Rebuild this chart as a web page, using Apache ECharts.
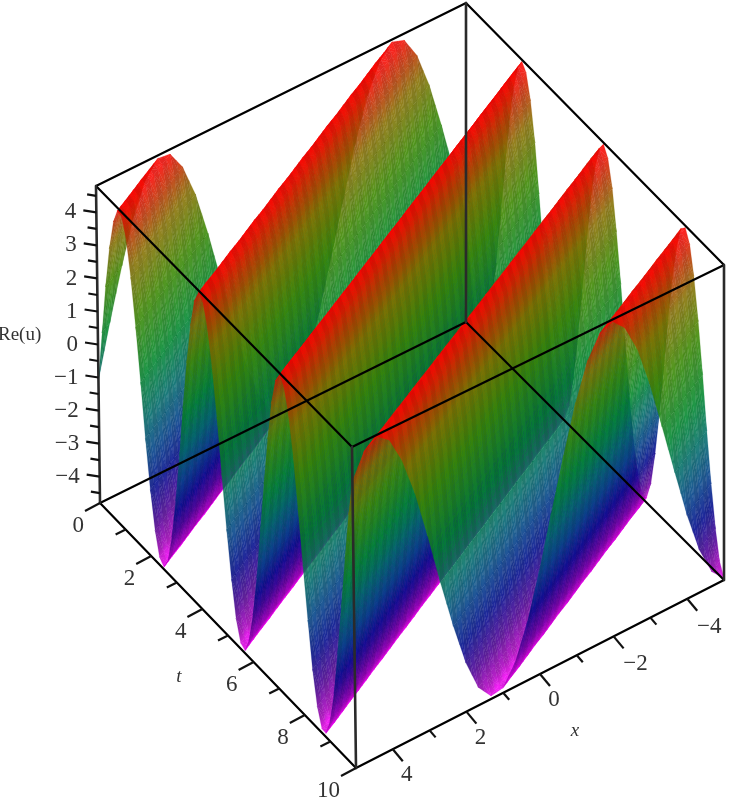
<!DOCTYPE html>
<html><head><meta charset="utf-8">
<style>html,body{margin:0;padding:0;background:#fff}#c{width:734px;height:800px;filter:blur(0.7px)}</style>
<script src="https://cdn.jsdelivr.net/npm/echarts@6/dist/echarts.min.js"></script>
</head><body><div id="c"></div>
<script>
const xValues=[-5,-4.67,-4.33,-4,-3.67,-3.33,-3,-2.67,-2.33,-2,-1.67,-1.33,-1,-0.67,-0.33,0,0.33,0.67,1,1.33,1.67,2,2.33,2.67,3,3.33,3.67,4,4.33,4.67,5];
const tValues=[0,0.17,0.33,0.5,0.67,0.83,1,1.17,1.33,1.5,1.67,1.83,2,2.17,2.33,2.5,2.67,2.83,3,3.17,3.33,3.5,3.67,3.83,4,4.17,4.33,4.5,4.67,4.83,5,5.17,5.33,5.5,5.67,5.83,6,6.17,6.33,6.5,6.67,6.83,7,7.17,7.33,7.5,7.67,7.83,8,8.17,8.33,8.5,8.67,8.83,9,9.17,9.33,9.5,9.67,9.83,10];
const reValues=[
[-1.61,-0.06,1.5,2.89,3.96,4.6,4.73,4.34,3.48,2.23,0.73,-0.85,-2.33,-3.56,-4.39,-4.74,-4.57,-3.9,-2.8,-1.38,0.18,1.72,3.08,4.09,4.66,4.71,4.24,3.31,2.01,0.49,-1.08],
[-2.98,-1.61,-0.06,1.5,2.89,3.96,4.6,4.73,4.34,3.48,2.23,0.73,-0.85,-2.33,-3.56,-4.39,-4.74,-4.57,-3.9,-2.8,-1.38,0.18,1.72,3.08,4.09,4.66,4.71,4.24,3.31,2.01,0.49],
[-4.03,-2.98,-1.61,-0.06,1.5,2.89,3.96,4.6,4.73,4.34,3.48,2.23,0.73,-0.85,-2.33,-3.56,-4.39,-4.74,-4.57,-3.9,-2.8,-1.38,0.18,1.72,3.08,4.09,4.66,4.71,4.24,3.31,2.01],
[-4.63,-4.03,-2.98,-1.61,-0.06,1.5,2.89,3.96,4.6,4.73,4.34,3.48,2.23,0.73,-0.85,-2.33,-3.56,-4.39,-4.74,-4.57,-3.9,-2.8,-1.38,0.18,1.72,3.08,4.09,4.66,4.71,4.24,3.31],
[-4.72,-4.63,-4.03,-2.98,-1.61,-0.06,1.5,2.89,3.96,4.6,4.73,4.34,3.48,2.23,0.73,-0.85,-2.33,-3.56,-4.39,-4.74,-4.57,-3.9,-2.8,-1.38,0.18,1.72,3.08,4.09,4.66,4.71,4.24],
[-4.29,-4.72,-4.63,-4.03,-2.98,-1.61,-0.06,1.5,2.89,3.96,4.6,4.73,4.34,3.48,2.23,0.73,-0.85,-2.33,-3.56,-4.39,-4.74,-4.57,-3.9,-2.8,-1.38,0.18,1.72,3.08,4.09,4.66,4.71],
[-3.39,-4.29,-4.72,-4.63,-4.03,-2.98,-1.61,-0.06,1.5,2.89,3.96,4.6,4.73,4.34,3.48,2.23,0.73,-0.85,-2.33,-3.56,-4.39,-4.74,-4.57,-3.9,-2.8,-1.38,0.18,1.72,3.08,4.09,4.66],
[-2.12,-3.39,-4.29,-4.72,-4.63,-4.03,-2.98,-1.61,-0.06,1.5,2.89,3.96,4.6,4.73,4.34,3.48,2.23,0.73,-0.85,-2.33,-3.56,-4.39,-4.74,-4.57,-3.9,-2.8,-1.38,0.18,1.72,3.08,4.09],
[-0.61,-2.12,-3.39,-4.29,-4.72,-4.63,-4.03,-2.98,-1.61,-0.06,1.5,2.89,3.96,4.6,4.73,4.34,3.48,2.23,0.73,-0.85,-2.33,-3.56,-4.39,-4.74,-4.57,-3.9,-2.8,-1.38,0.18,1.72,3.08],
[0.96,-0.61,-2.12,-3.39,-4.29,-4.72,-4.63,-4.03,-2.98,-1.61,-0.06,1.5,2.89,3.96,4.6,4.73,4.34,3.48,2.23,0.73,-0.85,-2.33,-3.56,-4.39,-4.74,-4.57,-3.9,-2.8,-1.38,0.18,1.72],
[2.43,0.96,-0.61,-2.12,-3.39,-4.29,-4.72,-4.63,-4.03,-2.98,-1.61,-0.06,1.5,2.89,3.96,4.6,4.73,4.34,3.48,2.23,0.73,-0.85,-2.33,-3.56,-4.39,-4.74,-4.57,-3.9,-2.8,-1.38,0.18],
[3.63,2.43,0.96,-0.61,-2.12,-3.39,-4.29,-4.72,-4.63,-4.03,-2.98,-1.61,-0.06,1.5,2.89,3.96,4.6,4.73,4.34,3.48,2.23,0.73,-0.85,-2.33,-3.56,-4.39,-4.74,-4.57,-3.9,-2.8,-1.38],
[4.43,3.63,2.43,0.96,-0.61,-2.12,-3.39,-4.29,-4.72,-4.63,-4.03,-2.98,-1.61,-0.06,1.5,2.89,3.96,4.6,4.73,4.34,3.48,2.23,0.73,-0.85,-2.33,-3.56,-4.39,-4.74,-4.57,-3.9,-2.8],
[4.75,4.43,3.63,2.43,0.96,-0.61,-2.12,-3.39,-4.29,-4.72,-4.63,-4.03,-2.98,-1.61,-0.06,1.5,2.89,3.96,4.6,4.73,4.34,3.48,2.23,0.73,-0.85,-2.33,-3.56,-4.39,-4.74,-4.57,-3.9],
[4.54,4.75,4.43,3.63,2.43,0.96,-0.61,-2.12,-3.39,-4.29,-4.72,-4.63,-4.03,-2.98,-1.61,-0.06,1.5,2.89,3.96,4.6,4.73,4.34,3.48,2.23,0.73,-0.85,-2.33,-3.56,-4.39,-4.74,-4.57],
[3.83,4.54,4.75,4.43,3.63,2.43,0.96,-0.61,-2.12,-3.39,-4.29,-4.72,-4.63,-4.03,-2.98,-1.61,-0.06,1.5,2.89,3.96,4.6,4.73,4.34,3.48,2.23,0.73,-0.85,-2.33,-3.56,-4.39,-4.74],
[2.7,3.83,4.54,4.75,4.43,3.63,2.43,0.96,-0.61,-2.12,-3.39,-4.29,-4.72,-4.63,-4.03,-2.98,-1.61,-0.06,1.5,2.89,3.96,4.6,4.73,4.34,3.48,2.23,0.73,-0.85,-2.33,-3.56,-4.39],
[1.27,2.7,3.83,4.54,4.75,4.43,3.63,2.43,0.96,-0.61,-2.12,-3.39,-4.29,-4.72,-4.63,-4.03,-2.98,-1.61,-0.06,1.5,2.89,3.96,4.6,4.73,4.34,3.48,2.23,0.73,-0.85,-2.33,-3.56],
[-0.3,1.27,2.7,3.83,4.54,4.75,4.43,3.63,2.43,0.96,-0.61,-2.12,-3.39,-4.29,-4.72,-4.63,-4.03,-2.98,-1.61,-0.06,1.5,2.89,3.96,4.6,4.73,4.34,3.48,2.23,0.73,-0.85,-2.33],
[-1.83,-0.3,1.27,2.7,3.83,4.54,4.75,4.43,3.63,2.43,0.96,-0.61,-2.12,-3.39,-4.29,-4.72,-4.63,-4.03,-2.98,-1.61,-0.06,1.5,2.89,3.96,4.6,4.73,4.34,3.48,2.23,0.73,-0.85],
[-3.17,-1.83,-0.3,1.27,2.7,3.83,4.54,4.75,4.43,3.63,2.43,0.96,-0.61,-2.12,-3.39,-4.29,-4.72,-4.63,-4.03,-2.98,-1.61,-0.06,1.5,2.89,3.96,4.6,4.73,4.34,3.48,2.23,0.73],
[-4.15,-3.17,-1.83,-0.3,1.27,2.7,3.83,4.54,4.75,4.43,3.63,2.43,0.96,-0.61,-2.12,-3.39,-4.29,-4.72,-4.63,-4.03,-2.98,-1.61,-0.06,1.5,2.89,3.96,4.6,4.73,4.34,3.48,2.23],
[-4.68,-4.15,-3.17,-1.83,-0.3,1.27,2.7,3.83,4.54,4.75,4.43,3.63,2.43,0.96,-0.61,-2.12,-3.39,-4.29,-4.72,-4.63,-4.03,-2.98,-1.61,-0.06,1.5,2.89,3.96,4.6,4.73,4.34,3.48],
[-4.69,-4.68,-4.15,-3.17,-1.83,-0.3,1.27,2.7,3.83,4.54,4.75,4.43,3.63,2.43,0.96,-0.61,-2.12,-3.39,-4.29,-4.72,-4.63,-4.03,-2.98,-1.61,-0.06,1.5,2.89,3.96,4.6,4.73,4.34],
[-4.19,-4.69,-4.68,-4.15,-3.17,-1.83,-0.3,1.27,2.7,3.83,4.54,4.75,4.43,3.63,2.43,0.96,-0.61,-2.12,-3.39,-4.29,-4.72,-4.63,-4.03,-2.98,-1.61,-0.06,1.5,2.89,3.96,4.6,4.73],
[-3.22,-4.19,-4.69,-4.68,-4.15,-3.17,-1.83,-0.3,1.27,2.7,3.83,4.54,4.75,4.43,3.63,2.43,0.96,-0.61,-2.12,-3.39,-4.29,-4.72,-4.63,-4.03,-2.98,-1.61,-0.06,1.5,2.89,3.96,4.6],
[-1.9,-3.22,-4.19,-4.69,-4.68,-4.15,-3.17,-1.83,-0.3,1.27,2.7,3.83,4.54,4.75,4.43,3.63,2.43,0.96,-0.61,-2.12,-3.39,-4.29,-4.72,-4.63,-4.03,-2.98,-1.61,-0.06,1.5,2.89,3.96],
[-0.37,-1.9,-3.22,-4.19,-4.69,-4.68,-4.15,-3.17,-1.83,-0.3,1.27,2.7,3.83,4.54,4.75,4.43,3.63,2.43,0.96,-0.61,-2.12,-3.39,-4.29,-4.72,-4.63,-4.03,-2.98,-1.61,-0.06,1.5,2.89],
[1.2,-0.37,-1.9,-3.22,-4.19,-4.69,-4.68,-4.15,-3.17,-1.83,-0.3,1.27,2.7,3.83,4.54,4.75,4.43,3.63,2.43,0.96,-0.61,-2.12,-3.39,-4.29,-4.72,-4.63,-4.03,-2.98,-1.61,-0.06,1.5],
[2.63,1.2,-0.37,-1.9,-3.22,-4.19,-4.69,-4.68,-4.15,-3.17,-1.83,-0.3,1.27,2.7,3.83,4.54,4.75,4.43,3.63,2.43,0.96,-0.61,-2.12,-3.39,-4.29,-4.72,-4.63,-4.03,-2.98,-1.61,-0.06],
[3.78,2.63,1.2,-0.37,-1.9,-3.22,-4.19,-4.69,-4.68,-4.15,-3.17,-1.83,-0.3,1.27,2.7,3.83,4.54,4.75,4.43,3.63,2.43,0.96,-0.61,-2.12,-3.39,-4.29,-4.72,-4.63,-4.03,-2.98,-1.61],
[4.51,3.78,2.63,1.2,-0.37,-1.9,-3.22,-4.19,-4.69,-4.68,-4.15,-3.17,-1.83,-0.3,1.27,2.7,3.83,4.54,4.75,4.43,3.63,2.43,0.96,-0.61,-2.12,-3.39,-4.29,-4.72,-4.63,-4.03,-2.98],
[4.75,4.51,3.78,2.63,1.2,-0.37,-1.9,-3.22,-4.19,-4.69,-4.68,-4.15,-3.17,-1.83,-0.3,1.27,2.7,3.83,4.54,4.75,4.43,3.63,2.43,0.96,-0.61,-2.12,-3.39,-4.29,-4.72,-4.63,-4.03],
[4.46,4.75,4.51,3.78,2.63,1.2,-0.37,-1.9,-3.22,-4.19,-4.69,-4.68,-4.15,-3.17,-1.83,-0.3,1.27,2.7,3.83,4.54,4.75,4.43,3.63,2.43,0.96,-0.61,-2.12,-3.39,-4.29,-4.72,-4.63],
[3.68,4.46,4.75,4.51,3.78,2.63,1.2,-0.37,-1.9,-3.22,-4.19,-4.69,-4.68,-4.15,-3.17,-1.83,-0.3,1.27,2.7,3.83,4.54,4.75,4.43,3.63,2.43,0.96,-0.61,-2.12,-3.39,-4.29,-4.72],
[2.5,3.68,4.46,4.75,4.51,3.78,2.63,1.2,-0.37,-1.9,-3.22,-4.19,-4.69,-4.68,-4.15,-3.17,-1.83,-0.3,1.27,2.7,3.83,4.54,4.75,4.43,3.63,2.43,0.96,-0.61,-2.12,-3.39,-4.29],
[1.04,2.5,3.68,4.46,4.75,4.51,3.78,2.63,1.2,-0.37,-1.9,-3.22,-4.19,-4.69,-4.68,-4.15,-3.17,-1.83,-0.3,1.27,2.7,3.83,4.54,4.75,4.43,3.63,2.43,0.96,-0.61,-2.12,-3.39],
[-0.54,1.04,2.5,3.68,4.46,4.75,4.51,3.78,2.63,1.2,-0.37,-1.9,-3.22,-4.19,-4.69,-4.68,-4.15,-3.17,-1.83,-0.3,1.27,2.7,3.83,4.54,4.75,4.43,3.63,2.43,0.96,-0.61,-2.12],
[-2.05,-0.54,1.04,2.5,3.68,4.46,4.75,4.51,3.78,2.63,1.2,-0.37,-1.9,-3.22,-4.19,-4.69,-4.68,-4.15,-3.17,-1.83,-0.3,1.27,2.7,3.83,4.54,4.75,4.43,3.63,2.43,0.96,-0.61],
[-3.34,-2.05,-0.54,1.04,2.5,3.68,4.46,4.75,4.51,3.78,2.63,1.2,-0.37,-1.9,-3.22,-4.19,-4.69,-4.68,-4.15,-3.17,-1.83,-0.3,1.27,2.7,3.83,4.54,4.75,4.43,3.63,2.43,0.96],
[-4.26,-3.34,-2.05,-0.54,1.04,2.5,3.68,4.46,4.75,4.51,3.78,2.63,1.2,-0.37,-1.9,-3.22,-4.19,-4.69,-4.68,-4.15,-3.17,-1.83,-0.3,1.27,2.7,3.83,4.54,4.75,4.43,3.63,2.43],
[-4.71,-4.26,-3.34,-2.05,-0.54,1.04,2.5,3.68,4.46,4.75,4.51,3.78,2.63,1.2,-0.37,-1.9,-3.22,-4.19,-4.69,-4.68,-4.15,-3.17,-1.83,-0.3,1.27,2.7,3.83,4.54,4.75,4.43,3.63],
[-4.65,-4.71,-4.26,-3.34,-2.05,-0.54,1.04,2.5,3.68,4.46,4.75,4.51,3.78,2.63,1.2,-0.37,-1.9,-3.22,-4.19,-4.69,-4.68,-4.15,-3.17,-1.83,-0.3,1.27,2.7,3.83,4.54,4.75,4.43],
[-4.07,-4.65,-4.71,-4.26,-3.34,-2.05,-0.54,1.04,2.5,3.68,4.46,4.75,4.51,3.78,2.63,1.2,-0.37,-1.9,-3.22,-4.19,-4.69,-4.68,-4.15,-3.17,-1.83,-0.3,1.27,2.7,3.83,4.54,4.75],
[-3.04,-4.07,-4.65,-4.71,-4.26,-3.34,-2.05,-0.54,1.04,2.5,3.68,4.46,4.75,4.51,3.78,2.63,1.2,-0.37,-1.9,-3.22,-4.19,-4.69,-4.68,-4.15,-3.17,-1.83,-0.3,1.27,2.7,3.83,4.54],
[-1.68,-3.04,-4.07,-4.65,-4.71,-4.26,-3.34,-2.05,-0.54,1.04,2.5,3.68,4.46,4.75,4.51,3.78,2.63,1.2,-0.37,-1.9,-3.22,-4.19,-4.69,-4.68,-4.15,-3.17,-1.83,-0.3,1.27,2.7,3.83],
[-0.14,-1.68,-3.04,-4.07,-4.65,-4.71,-4.26,-3.34,-2.05,-0.54,1.04,2.5,3.68,4.46,4.75,4.51,3.78,2.63,1.2,-0.37,-1.9,-3.22,-4.19,-4.69,-4.68,-4.15,-3.17,-1.83,-0.3,1.27,2.7],
[1.42,-0.14,-1.68,-3.04,-4.07,-4.65,-4.71,-4.26,-3.34,-2.05,-0.54,1.04,2.5,3.68,4.46,4.75,4.51,3.78,2.63,1.2,-0.37,-1.9,-3.22,-4.19,-4.69,-4.68,-4.15,-3.17,-1.83,-0.3,1.27],
[2.83,1.42,-0.14,-1.68,-3.04,-4.07,-4.65,-4.71,-4.26,-3.34,-2.05,-0.54,1.04,2.5,3.68,4.46,4.75,4.51,3.78,2.63,1.2,-0.37,-1.9,-3.22,-4.19,-4.69,-4.68,-4.15,-3.17,-1.83,-0.3],
[3.92,2.83,1.42,-0.14,-1.68,-3.04,-4.07,-4.65,-4.71,-4.26,-3.34,-2.05,-0.54,1.04,2.5,3.68,4.46,4.75,4.51,3.78,2.63,1.2,-0.37,-1.9,-3.22,-4.19,-4.69,-4.68,-4.15,-3.17,-1.83],
[4.58,3.92,2.83,1.42,-0.14,-1.68,-3.04,-4.07,-4.65,-4.71,-4.26,-3.34,-2.05,-0.54,1.04,2.5,3.68,4.46,4.75,4.51,3.78,2.63,1.2,-0.37,-1.9,-3.22,-4.19,-4.69,-4.68,-4.15,-3.17],
[4.74,4.58,3.92,2.83,1.42,-0.14,-1.68,-3.04,-4.07,-4.65,-4.71,-4.26,-3.34,-2.05,-0.54,1.04,2.5,3.68,4.46,4.75,4.51,3.78,2.63,1.2,-0.37,-1.9,-3.22,-4.19,-4.69,-4.68,-4.15],
[4.37,4.74,4.58,3.92,2.83,1.42,-0.14,-1.68,-3.04,-4.07,-4.65,-4.71,-4.26,-3.34,-2.05,-0.54,1.04,2.5,3.68,4.46,4.75,4.51,3.78,2.63,1.2,-0.37,-1.9,-3.22,-4.19,-4.69,-4.68],
[3.53,4.37,4.74,4.58,3.92,2.83,1.42,-0.14,-1.68,-3.04,-4.07,-4.65,-4.71,-4.26,-3.34,-2.05,-0.54,1.04,2.5,3.68,4.46,4.75,4.51,3.78,2.63,1.2,-0.37,-1.9,-3.22,-4.19,-4.69],
[2.29,3.53,4.37,4.74,4.58,3.92,2.83,1.42,-0.14,-1.68,-3.04,-4.07,-4.65,-4.71,-4.26,-3.34,-2.05,-0.54,1.04,2.5,3.68,4.46,4.75,4.51,3.78,2.63,1.2,-0.37,-1.9,-3.22,-4.19],
[0.8,2.29,3.53,4.37,4.74,4.58,3.92,2.83,1.42,-0.14,-1.68,-3.04,-4.07,-4.65,-4.71,-4.26,-3.34,-2.05,-0.54,1.04,2.5,3.68,4.46,4.75,4.51,3.78,2.63,1.2,-0.37,-1.9,-3.22],
[-0.77,0.8,2.29,3.53,4.37,4.74,4.58,3.92,2.83,1.42,-0.14,-1.68,-3.04,-4.07,-4.65,-4.71,-4.26,-3.34,-2.05,-0.54,1.04,2.5,3.68,4.46,4.75,4.51,3.78,2.63,1.2,-0.37,-1.9],
[-2.26,-0.77,0.8,2.29,3.53,4.37,4.74,4.58,3.92,2.83,1.42,-0.14,-1.68,-3.04,-4.07,-4.65,-4.71,-4.26,-3.34,-2.05,-0.54,1.04,2.5,3.68,4.46,4.75,4.51,3.78,2.63,1.2,-0.37],
[-3.5,-2.26,-0.77,0.8,2.29,3.53,4.37,4.74,4.58,3.92,2.83,1.42,-0.14,-1.68,-3.04,-4.07,-4.65,-4.71,-4.26,-3.34,-2.05,-0.54,1.04,2.5,3.68,4.46,4.75,4.51,3.78,2.63,1.2],
[-4.36,-3.5,-2.26,-0.77,0.8,2.29,3.53,4.37,4.74,4.58,3.92,2.83,1.42,-0.14,-1.68,-3.04,-4.07,-4.65,-4.71,-4.26,-3.34,-2.05,-0.54,1.04,2.5,3.68,4.46,4.75,4.51,3.78,2.63],
[-4.74,-4.36,-3.5,-2.26,-0.77,0.8,2.29,3.53,4.37,4.74,4.58,3.92,2.83,1.42,-0.14,-1.68,-3.04,-4.07,-4.65,-4.71,-4.26,-3.34,-2.05,-0.54,1.04,2.5,3.68,4.46,4.75,4.51,3.78]
];
const tTicks=[0,1,2,3,4,5,6,7,8,9,10];
const xTicks=[4,3,2,1,0,-1,-2,-3,-4];
const zTicks=[4.5,4,3.5,3,2.5,2,1.5,1,0.5,0,-0.5,-1,-1.5,-2,-2.5,-3,-3.5,-4,-4.5];
const colorKnots=[[-4.75,[255,0,255]],[-4.45,[170,0,190]],[-3.8,[80,0,150]],[-2.85,[0,10,140]],[-1.9,[0,65,135]],[-0.9,[0,108,105]],[0.3,[0,135,45]],[1.95,[60,135,0]],[3.35,[135,110,0]],[4.05,[185,55,0]],[4.75,[255,0,0]]];
const corners={b:{'5,0':[100,503],'-5,0':[466,322],'-5,10':[724,580],'5,10':[356,768]},t:{'5,0':[96,186],'-5,0':[466,3],'-5,10':[724,265],'5,10':[352,447]}};
const zLo=-4.8,zHi=4.8;
const surfaceAlpha=0.87,stripeShade=0.92;
function proj(x,t,z){
  const u=(x+5)/10,v=t/10,w=(z-zLo)/(zHi-zLo);
  const mix=(k,o)=>{const a=corners[k];
    return (1-u)*(1-v)*a['-5,0'][o]+u*(1-v)*a['5,0'][o]+(1-u)*v*a['-5,10'][o]+u*v*a['5,10'][o];};
  return [0,1].map(o=>(1-w)*mix('b',o)+w*mix('t',o));
}
function colorAt(z,f){
  const K=colorKnots;let c=K[K.length-1][1];
  if(z<=K[0][0])c=K[0][1];
  else for(let i=0;i<K.length-1;i++){if(z<=K[i+1][0]){const r=(z-K[i][0])/(K[i+1][0]-K[i][0]);c=K[i][1].map((v,o)=>v+(K[i+1][1][o]-v)*r);break;}}
  return 'rgb('+c.map(v=>Math.round(Math.min(255,v*f))).join(',')+')';
}
function triFill(P,Z,f){
  const zmin=Math.min(...Z),zmax=Math.max(...Z);
  const e1=[P[1][0]-P[0][0],P[1][1]-P[0][1]],e2=[P[2][0]-P[0][0],P[2][1]-P[0][1]];
  const det=e1[0]*e2[1]-e1[1]*e2[0];
  if(Math.abs(det)<0.5||zmax-zmin<0.02)return colorAt((zmin+zmax)/2,f);
  const d1=Z[1]-Z[0],d2=Z[2]-Z[0];
  const g=[(d1*e2[1]-d2*e1[1])/det,(d2*e1[0]-d1*e2[0])/det];
  const n=g[0]*g[0]+g[1]*g[1];
  const S=[P[0][0]+g[0]*(zmin-Z[0])/n,P[0][1]+g[1]*(zmin-Z[0])/n];
  const E=[P[0][0]+g[0]*(zmax-Z[0])/n,P[0][1]+g[1]*(zmax-Z[0])/n];
  const stops=[{offset:0,color:colorAt(zmin,f)}];
  colorKnots.forEach(k=>{if(k[0]>zmin&&k[0]<zmax)stops.push({offset:(k[0]-zmin)/(zmax-zmin),color:colorAt(k[0],f)});});
  stops.push({offset:1,color:colorAt(zmax,f)});
  return {type:'linear',global:true,x:S[0],y:S[1],x2:E[0],y2:E[1],colorStops:stops};
}
const cells=[];
for(let i=0;i<xValues.length-1;i++)for(let j=0;j<tValues.length-1;j++)cells.push([i,j]);
function renderCell(params,api){
  const i=api.value(0),j=api.value(1),ch=[];
  const x0=xValues[i],x1=xValues[i+1],t0=tValues[j],t1=tValues[j+1],xm=(x0+x1)/2;
  const a=reValues[j][i],b=reValues[j][i+1],c=reValues[j+1][i],d=reValues[j+1][i+1];
  const V={A:[x0,t0,a],B:[x1,t0,b],C:[x0,t1,c],D:[x1,t1,d],M:[xm,(t0+t1)/2,(a+d)/2],N:[xm,t0,(a+b)/2],O:[xm,t1,(c+d)/2]};
  const tris=[['A','N','M',1],['A','M','C',1],['C','M','O',1],['N','B','M',stripeShade],['B','D','M',stripeShade],['M','D','O',stripeShade]];
  tris.forEach(q=>{
    const pts=[q[0],q[1],q[2]].map(k=>api.coord(proj(V[k][0],V[k][1],V[k][2])));
    const zs=[q[0],q[1],q[2]].map(k=>V[k][2]);
    const fill=triFill(pts,zs,q[3]);
    ch.push({type:'polygon',shape:{points:pts},silent:true,style:{fill:fill,stroke:fill,lineWidth:0.45,strokeOpacity:0.5,opacity:surfaceAlpha}});
  });
  return {type:'group',children:ch};
}
const edges=[
 [5,0,zHi,-5,0,zHi,0],[-5,0,zHi,-5,10,zHi,0],[-5,10,zHi,5,10,zHi,0],[5,10,zHi,5,0,zHi,0],
 [5,0,zLo,-5,0,zLo,0],[-5,0,zLo,-5,10,zLo,0],[-5,10,zLo,5,10,zLo,0],[5,10,zLo,5,0,zLo,0],
 [5,0,zLo,5,0,zHi,1],[-5,0,zLo,-5,0,zHi,1],[-5,10,zLo,-5,10,zHi,1],[5,10,zLo,5,10,zHi,1]];
function renderEdge(p,api){
  const v=[0,1,2,3,4,5,6].map(k=>api.value(k));
  const a=api.coord(proj(v[0],v[1],v[2])),b=api.coord(proj(v[3],v[4],v[5]));
  return {type:'line',shape:{x1:a[0],y1:a[1],x2:b[0],y2:b[1]},style:{stroke:v[6]?'#2a2a2a':'#000',lineWidth:v[6]?2.6:2.2,lineCap:'round'},silent:true};
}
const labelFont='23px "Liberation Serif"';
const tickItems=[];
tTicks.forEach(t=>tickItems.push(['t',t]));
xTicks.forEach(x=>tickItems.push(['x',x]));
zTicks.forEach(z=>tickItems.push(['z',z]));
function fmt(v){return v<0?'\u2212'+(-v):String(v);}
function renderTick(p,api){
  const kind=api.value(0),val=api.value(1);let a,off,lab=null;
  if(kind==='t'){a=proj(5,val,zLo);const M=val%2===0;off=M?[-15,8]:[-10,5];
    if(M)lab={text:fmt(val),x:a[0]-16,y:a[1]+23,align:'right'};}
  else if(kind==='x'){a=proj(val,10,zLo);const M=val%2===0;off=M?[10,12]:[6,7];
    if(M)lab={text:fmt(val),x:a[0]+(val<0?22:14),y:a[1]+(val<0?28:26),align:'center'};}
  else{a=proj(5,0,val);const M=Number.isInteger(val);off=M?[-13,-2]:[-9,-1.5];
    if(M)lab={text:fmt(val),x:a[0]-20,y:a[1],align:'right'};}
  const P=api.coord(a),Q=api.coord([a[0]+off[0],a[1]+off[1]]);
  const ch=[{type:'line',shape:{x1:P[0],y1:P[1],x2:Q[0],y2:Q[1]},style:{stroke:'#111',lineWidth:2.2},silent:true}];
  if(lab){const L=api.coord([lab.x,lab.y]);
    ch.push({type:'text',silent:true,style:{text:lab.text,x:L[0],y:L[1],align:lab.align,verticalAlign:'middle',font:labelFont,fill:'#333'}});}
  return {type:'group',children:ch};
}
const chart=echarts.init(document.getElementById('c'),null,{renderer:'canvas'});
chart.setOption({
  animation:false,
  backgroundColor:'#fff',
  grid:{left:0,right:0,top:0,bottom:0},
  xAxis:{type:'value',min:0,max:734,show:false},
  yAxis:{type:'value',min:0,max:800,inverse:true,show:false},
  graphic:[
    {type:'text',silent:true,style:{text:'Re(u)',x:-2,y:335,verticalAlign:'middle',font:'19px "Liberation Serif"',fill:'#333'}},
    {type:'text',silent:true,style:{text:'t',x:179,y:677,align:'center',verticalAlign:'middle',font:'italic 19px "Liberation Serif"',fill:'#333'}},
    {type:'text',silent:true,style:{text:'x',x:575,y:731,align:'center',verticalAlign:'middle',font:'italic 19px "Liberation Serif"',fill:'#333'}}
  ],
  series:[
    {type:'custom',name:'Re(u)',coordinateSystem:'cartesian2d',clip:false,progressive:0,data:cells,renderItem:renderCell,encode:{x:0,y:1}},
    {type:'custom',name:'box',coordinateSystem:'cartesian2d',clip:false,data:edges,renderItem:renderEdge,encode:{x:0,y:1}},
    {type:'custom',name:'axes',coordinateSystem:'cartesian2d',clip:false,data:tickItems,renderItem:renderTick,dimensions:[{name:'k',type:'ordinal'},{name:'v',type:'number'}],encode:{x:1,y:1}}
  ]
});
</script></body></html>
